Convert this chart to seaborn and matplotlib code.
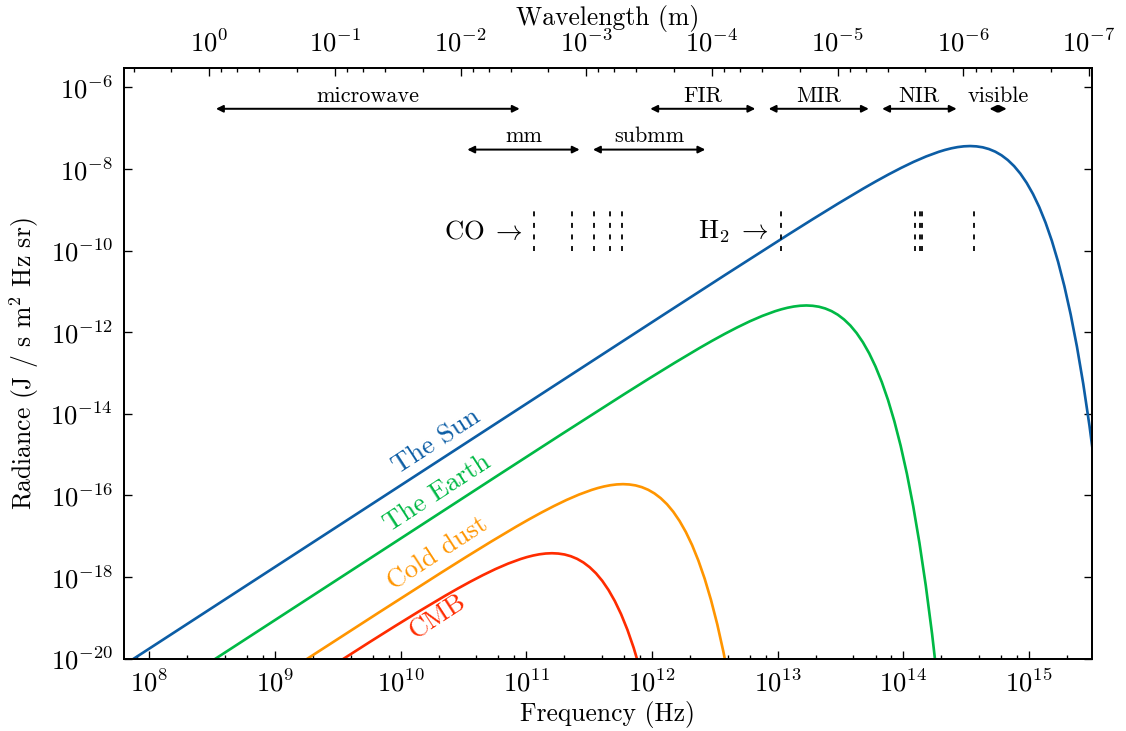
import numpy as np
import pandas as pd
import matplotlib
matplotlib.use("Agg")
import matplotlib.pyplot as plt
import matplotlib.ticker as mticker
import seaborn as sns

C_LIGHT = 2.998e8  # m/s, for the wavelength axis

# ---------------- data (log10 values) ----------------
curve_names = ["The Sun", "The Earth", "Cold dust", "CMB"]
curve_colors = ["#0C5DA5", "#00B945", "#FF9500", "#FF2C00"]

sun_log_freq = [7.581, 12.081, 12.581, 13.081, 13.281, 13.481, 13.681, 13.781, 13.881, 13.981,
                14.081, 14.181, 14.281, 14.331, 14.381, 14.431, 14.481, 14.531, 14.581, 14.631,
                14.681, 14.731, 14.781, 14.831, 14.881, 14.931, 14.981, 15.031, 15.081, 15.131,
                15.181, 15.231, 15.281, 15.331, 15.381, 15.431, 15.481, 15.531]
sun_log_rad = [-20.589, -11.591, -10.596, -9.611, -9.224, -8.845, -8.478, -8.302, -8.133, -7.973,
               -7.824, -7.691, -7.578, -7.531, -7.492, -7.462, -7.443, -7.436, -7.444, -7.467,
               -7.510, -7.574, -7.663, -7.780, -7.928, -8.113, -8.339, -8.610, -8.932, -9.312,
               -9.756, -10.274, -10.872, -11.562, -12.354, -13.262, -14.298, -15.479]

earth_log_freq = [7.778, 10.778, 11.278, 11.778, 11.978, 12.178, 12.378, 12.478, 12.578, 12.678,
                  12.778, 12.878, 12.978, 13.028, 13.078, 13.128, 13.178, 13.228, 13.278, 13.328,
                  13.378, 13.428, 13.478, 13.528, 13.578, 13.628, 13.678, 13.728, 13.778, 13.828,
                  13.878, 13.928, 13.978, 14.028, 14.078, 14.128, 14.178, 14.228, 14.278]
earth_log_rad = [-21.496, -15.498, -14.503, -13.518, -13.131, -12.752, -12.385, -12.209, -12.040, -11.880,
                 -11.731, -11.598, -11.485, -11.438, -11.399, -11.369, -11.350, -11.343, -11.351, -11.374,
                 -11.417, -11.481, -11.570, -11.687, -11.835, -12.020, -12.246, -12.517, -12.839, -13.219,
                 -13.663, -14.181, -14.779, -15.469, -16.261, -17.169, -18.205, -19.386, -20.730]

dust_log_freq = [8.819, 9.319, 9.819, 10.319, 10.519, 10.719, 10.919, 11.019, 11.119, 11.219,
                 11.319, 11.419, 11.519, 11.569, 11.619, 11.669, 11.719, 11.769, 11.819, 11.869,
                 11.919, 11.969, 12.019, 12.069, 12.119, 12.169, 12.219, 12.269, 12.319, 12.369,
                 12.419, 12.469, 12.519, 12.569, 12.619]
dust_log_rad = [-20.876, -19.877, -18.882, -17.897, -17.510, -17.131, -16.764, -16.588, -16.419, -16.259,
                -16.110, -15.977, -15.864, -15.817, -15.778, -15.748, -15.729, -15.722, -15.730, -15.753,
                -15.796, -15.860, -15.949, -16.066, -16.214, -16.399, -16.625, -16.896, -17.218, -17.598,
                -18.042, -18.560, -19.158, -19.848, -20.640]

cmb_log_freq = [9.254, 9.754, 9.954, 10.154, 10.354, 10.454, 10.554, 10.654, 10.754, 10.854,
                10.954, 11.004, 11.054, 11.104, 11.154, 11.204, 11.254, 11.304, 11.354, 11.404,
                11.454, 11.504, 11.554, 11.604, 11.654, 11.704, 11.754, 11.804, 11.854, 11.904]
cmb_log_rad = [-20.575, -19.590, -19.203, -18.824, -18.457, -18.281, -18.112, -17.952, -17.803, -17.670,
               -17.557, -17.510, -17.471, -17.441, -17.422, -17.415, -17.423, -17.446, -17.489, -17.553,
               -17.642, -17.759, -17.907, -18.092, -18.318, -18.589, -18.911, -19.291, -19.735, -20.253]

# spectral bands (wavelength limits in m) and the row (radiance level) of each arrow
band_names = ["microwave", "FIR", "MIR", "NIR", "visible", "mm", "submm"]
band_long_wl = [1.0, 350e-6, 40e-6, 5e-6, 700e-9, 1e-2, 1e-3]
band_short_wl = [3e-3, 40e-6, 5e-6, 1e-6, 400e-9, 1e-3, 1e-4]
band_level = [3e-7, 3e-7, 3e-7, 3e-7, 3e-7, 3e-8, 3e-8]

# spectral lines (Hz)
co_line_freq = [1.1527e11, 2.3054e11, 3.4580e11, 4.6104e11, 5.7627e11]
h2_line_freq = [1.062e13, 1.2457e14, 1.3483e14, 1.4129e14, 3.631e14]

# ---------------- style ----------------
sns.set_theme(style="ticks")
plt.rcParams.update({
    "font.family": "serif",
    "font.serif": ["cmr10"],
    "mathtext.fontset": "cm",
    "axes.formatter.use_mathtext": True,
    "axes.unicode_minus": True,
    "axes.linewidth": 0.8,
    "axes.edgecolor": "black",
    "xtick.direction": "in",
    "ytick.direction": "in",
    "xtick.major.size": 3.6,
    "ytick.major.size": 3.6,
    "xtick.minor.size": 1.8,
    "ytick.minor.size": 1.8,
    "xtick.major.width": 0.6,
    "ytick.major.width": 0.6,
    "xtick.minor.width": 0.6,
    "ytick.minor.width": 0.6,
    "xtick.color": "black",
    "ytick.color": "black",
    "xtick.labelsize": 12,
    "ytick.labelsize": 12,
    "axes.labelsize": 11.5,
    "text.color": "black",
    "axes.labelcolor": "black",
})

DPI = 160
fig = plt.figure(figsize=(1126 / DPI, 731 / DPI), dpi=DPI)
ax = fig.add_axes([0.1101, 0.0989, 0.8594, 0.8081])
ax.set_xscale("log")
ax.set_yscale("log")

# ---------------- curves ----------------
frames = []
for name, lf, lr in zip(curve_names,
                        [sun_log_freq, earth_log_freq, dust_log_freq, cmb_log_freq],
                        [sun_log_rad, earth_log_rad, dust_log_rad, cmb_log_rad]):
    frames.append(pd.DataFrame({"freq": np.power(10.0, lf),
                                "radiance": np.power(10.0, lr),
                                "source": name}))
df = pd.concat(frames, ignore_index=True)

sns.lineplot(data=df, x="freq", y="radiance", hue="source",
             palette=dict(zip(curve_names, curve_colors)),
             sort=False, estimator=None, linewidth=1.2, legend=False, ax=ax)

xmin, xmax = 10 ** 7.798, 10 ** 15.498
ax.set_xlim(xmin, xmax)
ax.set_ylim(1e-20, 3e-6)

# ---------------- ticks ----------------
ax.xaxis.set_major_locator(mticker.LogLocator(base=10, numticks=30))
ax.xaxis.set_minor_locator(mticker.LogLocator(base=10, subs=(2, 4, 6, 8), numticks=30))
ax.xaxis.set_minor_formatter(mticker.NullFormatter())
ax.yaxis.set_major_locator(mticker.FixedLocator([10.0 ** e for e in range(-20, -5, 2)]))
ax.yaxis.set_minor_locator(mticker.NullLocator())
ax.tick_params(axis="x", which="both", top=False, bottom=True, pad=5)
ax.tick_params(axis="y", which="both", left=True, right=True, pad=5)

ax.set_xlabel("Frequency (Hz)", labelpad=2)
ax.set_ylabel("Radiance (J / s m$^2$ Hz sr)", labelpad=4)

# wavelength axis on top
ax2 = ax.twiny()
ax2.set_xscale("log")
ax2.set_xlim(C_LIGHT / xmin, C_LIGHT / xmax)
ax2.xaxis.set_major_locator(mticker.LogLocator(base=10, numticks=30))
ax2.xaxis.set_minor_locator(mticker.LogLocator(base=10, subs=(2, 4, 6, 8), numticks=30))
ax2.xaxis.set_minor_formatter(mticker.NullFormatter())
ax2.tick_params(axis="x", which="both", top=True, bottom=False, direction="in", pad=5)
ax2.set_xlabel("Wavelength (m)", labelpad=2)
for sp in ax2.spines.values():
    sp.set_linewidth(0.8)

# ---------------- band arrows ----------------
for name, lw_long, lw_short, lev in zip(band_names, band_long_wl, band_short_wl, band_level):
    f_lo = C_LIGHT / lw_long
    f_hi = C_LIGHT / lw_short
    ax.annotate("", xy=(f_hi, lev), xytext=(f_lo, lev),
                arrowprops=dict(arrowstyle="<|-|>,head_length=0.32,head_width=0.16",
                                color="black", lw=0.9, shrinkA=3, shrinkB=3,
                                mutation_scale=8))
    ax.annotate(name, xy=(np.sqrt(f_lo * f_hi), lev), xytext=(0, 3.2),
                textcoords="offset points", ha="center", va="baseline", fontsize=10)

# ---------------- spectral lines ----------------
ax.vlines(co_line_freq, 1e-10, 1e-9, colors="black", linestyles=(0, (2.8, 3.7)), lw=0.8)
ax.vlines(h2_line_freq, 1e-10, 1e-9, colors="black", linestyles=(0, (2.8, 3.7)), lw=0.8)
ax.text(0.8 * co_line_freq[0], 2.9e-10, r"CO$\;\rightarrow$", ha="right", va="center", fontsize=12)
ax.text(0.8 * h2_line_freq[0], 2.9e-10, r"H$_2\;\rightarrow$", ha="right", va="center", fontsize=12)

# ---------------- curve labels ----------------
label_pos = [(10 ** 10.289, 10 ** -14.683), (10 ** 10.293, 10 ** -15.932),
             (10 ** 10.297, 10 ** -17.425), (10 ** 10.297, 10 ** -18.967)]
for name, col, (lx, ly) in zip(curve_names, curve_colors, label_pos):
    ax.text(lx, ly, name, color=col, fontsize=12, rotation=33,
            rotation_mode="anchor", ha="center", va="center")

fig.savefig("out.png", dpi=DPI)
